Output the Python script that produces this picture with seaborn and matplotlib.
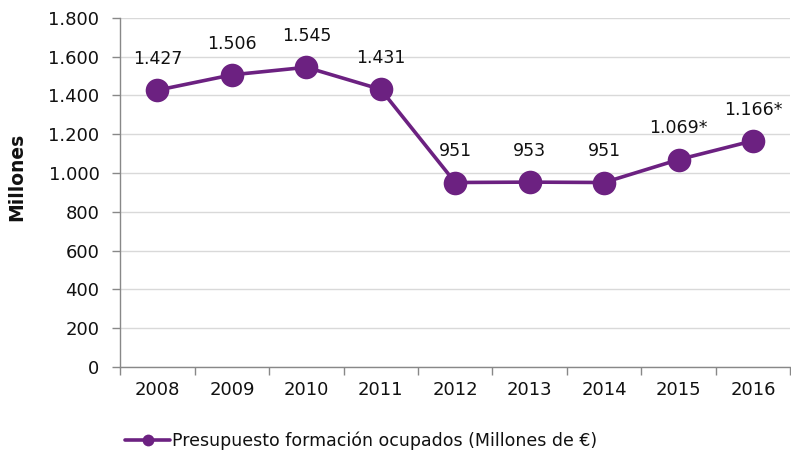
import matplotlib
matplotlib.use("Agg")
import matplotlib.pyplot as plt
import pandas as pd
import seaborn as sns
from matplotlib.ticker import FixedLocator, FuncFormatter

years = ["2008", "2009", "2010", "2011", "2012", "2013", "2014", "2015", "2016"]
budget = [1427, 1506, 1545, 1431, 951, 953, 951, 1069, 1166]
point_labels = ["1.427", "1.506", "1.545", "1.431", "951", "953", "951", "1.069*", "1.166*"]
series_name = "Presupuesto formación ocupados (Millones de €)"

PURPLE = "#6C2181"

sns.set_theme(style="white")
plt.rcParams["font.family"] = ["DejaVu Sans"]

df = pd.DataFrame({"pos": range(len(years)), "valor": budget})

fig = plt.figure(figsize=(7.91, 4.57), dpi=100)
ax = fig.add_axes([0.152, 0.197, 0.847, 0.764])

sns.lineplot(data=df, x="pos", y="valor", ax=ax, color=PURPLE, linewidth=2.6,
             marker="o", markersize=17, markeredgewidth=0, label=series_name)

for x, y, txt in zip(df["pos"], df["valor"], point_labels):
    ax.annotate(txt, (x, y), xytext=(0, 16), textcoords="offset points",
                ha="center", va="bottom", fontsize=12.5, color="#111111")

ax.set_xlim(-0.5, len(years) - 0.5)
ax.set_ylim(0, 1800)
ax.set_yticks(range(0, 1801, 200))
ax.yaxis.set_major_formatter(FuncFormatter(lambda v, _: f"{int(v):,}".replace(",", ".")))
ax.yaxis.grid(True, color="#d9d9d9", linewidth=1)
ax.set_axisbelow(True)

ax.xaxis.set_major_locator(FixedLocator([i - 0.5 for i in range(len(years) + 1)]))
ax.xaxis.set_minor_locator(FixedLocator(list(range(len(years)))))
ax.set_xticklabels([])
ax.set_xticklabels(years, minor=True)
ax.tick_params(axis="x", which="major", length=6, width=1, color="#888888", direction="out", bottom=True)
ax.tick_params(axis="x", which="minor", length=0, pad=10, labelsize=13, labelcolor="#111111")
ax.tick_params(axis="y", length=6, width=1, color="#888888", direction="out", left=True,
               labelsize=13, labelcolor="#111111", pad=9)

for side in ["top", "right"]:
    ax.spines[side].set_visible(False)
for side in ["left", "bottom"]:
    ax.spines[side].set_color("#888888")
    ax.spines[side].set_linewidth(1)

ax.set_xlabel("")
ax.set_ylabel("Millones", fontsize=13.5, fontweight="bold", color="#111111")
ax.yaxis.set_label_coords(-0.14, 0.545)

ax.legend(loc="upper left", bbox_to_anchor=(-0.016, -0.14), frameon=False,
          fontsize=12.5, handlelength=2.6, handletextpad=0.1, markerscale=0.5,
          labelcolor="#111111")

fig.savefig("out.png", dpi=100)
